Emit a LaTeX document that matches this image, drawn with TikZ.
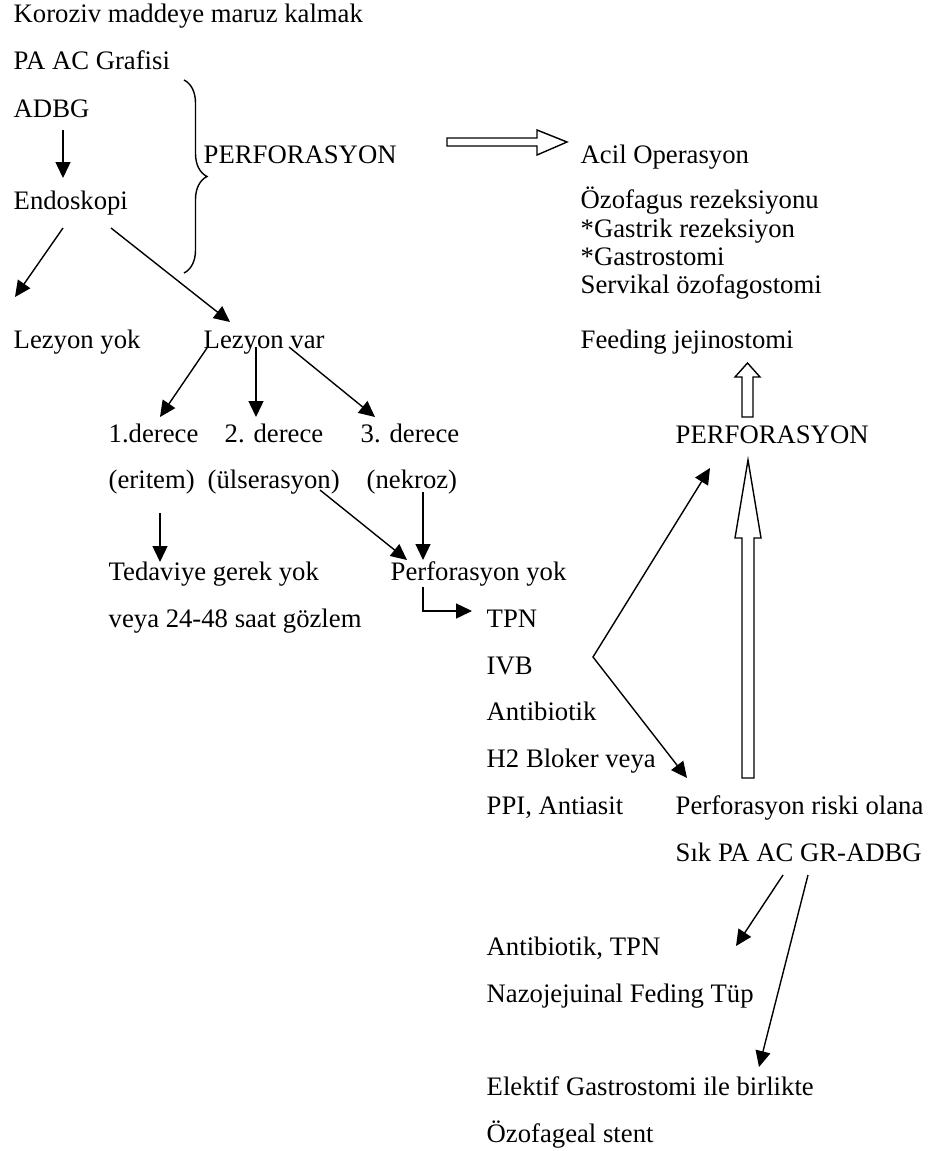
\documentclass[tikz,border=0pt]{standalone}
\usepackage{fontspec}
\setmainfont{Liberation Serif}
\usetikzlibrary{arrows.meta,decorations.pathreplacing}

\begin{document}
\begin{tikzpicture}[x=1pt, y=-1pt, line width=1.4pt,
  txt/.style={anchor=base west, inner sep=0pt, font=\fontsize{26.7}{30}\selectfont},
  arr/.style={-{Triangle[length=16pt, width=15pt]}},
  twoarr/.style={{Triangle[length=16pt, width=15pt]}-{Triangle[length=16pt, width=15pt]}},
  hollow/.style={draw, fill=white, line width=1.4pt}]
\useasboundingbox (0,0) rectangle (929,1151);
% Left column
\node[txt] (kor) at (13,23) {Koroziv maddeye maruz kalmak};
\node[txt] (pa) at (13,69) {PA AC Grafisi};
\node[txt] (adbg) at (13,117) {ADBG};
\node[txt] (endo) at (13,209) {Endoskopi};
\node[txt] (perfa) at (203,163) {PERFORASYON};
\node[txt] (lezyok) at (13,348) {Lezyon yok};
\node[txt] (lezvar) at (203,348) {Lezyon var};
% Degrees
\node[txt] (der1) at (108,442) {1.derece};
\node[txt] (der2) at (224,442) {2. derece};
\node[txt] (der3) at (360,442) {3. derece};
\node[txt] (eritem) at (108,488) {(eritem)};
\node[txt] (ulser) at (207,488) {(ülserasyon)};
\node[txt] (nekroz) at (366,488) {(nekroz)};
\node[txt] (tedavi) at (108,580) {Tedaviye gerek yok};
\node[txt] (gozlem) at (108,627) {veya 24-48 saat gözlem};
\node[txt] (perfyok) at (390,580) {Perforasyon yok};
% Medical treatment
\node[txt] (tpn) at (486,627) {TPN};
\node[txt] (ivb) at (486,674) {IVB};
\node[txt] (antib) at (486,720) {Antibiotik};
\node[txt] (bloker) at (486,767) {H2 Bloker veya};
\node[txt] (ppi) at (486,814) {PPI, Antiasit};
\node[txt] (risk) at (675,814) {Perforasyon riski olana};
\node[txt] (sik) at (675,861) {Sık PA AC GR-ADBG};
\node[txt] (antitpn) at (486,955) {Antibiotik, TPN};
\node[txt] (nazo) at (486,1002) {Nazojejuinal Feding Tüp};
\node[txt] (elektif) at (486,1095) {Elektif Gastrostomi ile birlikte};
\node[txt] (stent) at (486,1142) {Özofageal stent};
% Surgery
\node[txt] (acil) at (580,163) {Acil Operasyon};
\node[txt] (rezek) at (580,208) {Özofagus rezeksiyonu};
\node[txt] (gastrik) at (580,237) {*Gastrik rezeksiyon};
\node[txt] (gastro) at (580,265) {*Gastrostomi};
\node[txt] (servikal) at (580,293) {Servikal özofagostomi};
\node[txt] (feeding) at (580,348) {Feeding jejinostomi};
\node[txt] (perfb) at (675,443) {PERFORASYON};
% Arrows
\draw[arr] ([shift={(50,13)}]adbg.base west) -- ([shift={(50,-31)}]endo.base west);
\draw[arr] ([shift={(50,19)}]endo.base west) -- ([shift={(2,-51)}]lezyok.base west);
\draw[arr] ([shift={(98,19)}]endo.base west) -- ([shift={(27,-26)}]lezvar.base west);
\draw[arr] ([shift={(4,0)}]lezvar.base west) -- ([shift={(52,-25)}]der1.base west);
\draw[arr] ([shift={(53,-1)}]lezvar.base west) -- ([shift={(32,-25)}]der2.base west);
\draw[arr] ([shift={(86,-1)}]lezvar.base west) -- ([shift={(15,-25)}]der3.base west);
\draw[arr] ([shift={(52,25)}]eritem.base west) -- ([shift={(52,-18)}]tedavi.base west);
\draw[arr] ([shift={(113,2)}]ulser.base west) -- ([shift={(17,-20)}]perfyok.base west);
\draw[arr] ([shift={(57,4)}]nekroz.base west) -- ([shift={(33,-20)}]perfyok.base west);
\draw[arr] ([shift={(33,7)}]perfyok.base west) |- ([shift={(-14,-16)}]tpn.base west);
\draw[twoarr] ([shift={(35,25)}]perfb.base west)
  -- ([shift={(107,-17)}]ivb.base west) -- ([shift={(12,-36)}]risk.base west);
\draw[arr] ([shift={(108,14)}]sik.base west) -- ([shift={(250,-9)}]antitpn.base west);
\draw[arr] ([shift={(133,14)}]sik.base west) -- ([shift={(273,-28)}]elektif.base west);
% Brace
\draw[line width=1.4pt, decorate, decoration={brace, amplitude=23pt}] (184,80) -- (184,273);
% Hollow arrows
\draw[hollow] (447,138) -- (537,138) -- (537,130) -- (567,142) -- (537,155) -- (537,146) -- (447,146) -- cycle;
\draw[hollow] (742,417) -- (742,377) -- (735,377) -- (747.5,363) -- (760,377) -- (753,377) -- (753,417) -- cycle;
\draw[hollow] (742,778) -- (742,538) -- (735,538) -- (748,460) -- (761,538) -- (754,538) -- (754,778) -- cycle;
\end{tikzpicture}
\end{document}
